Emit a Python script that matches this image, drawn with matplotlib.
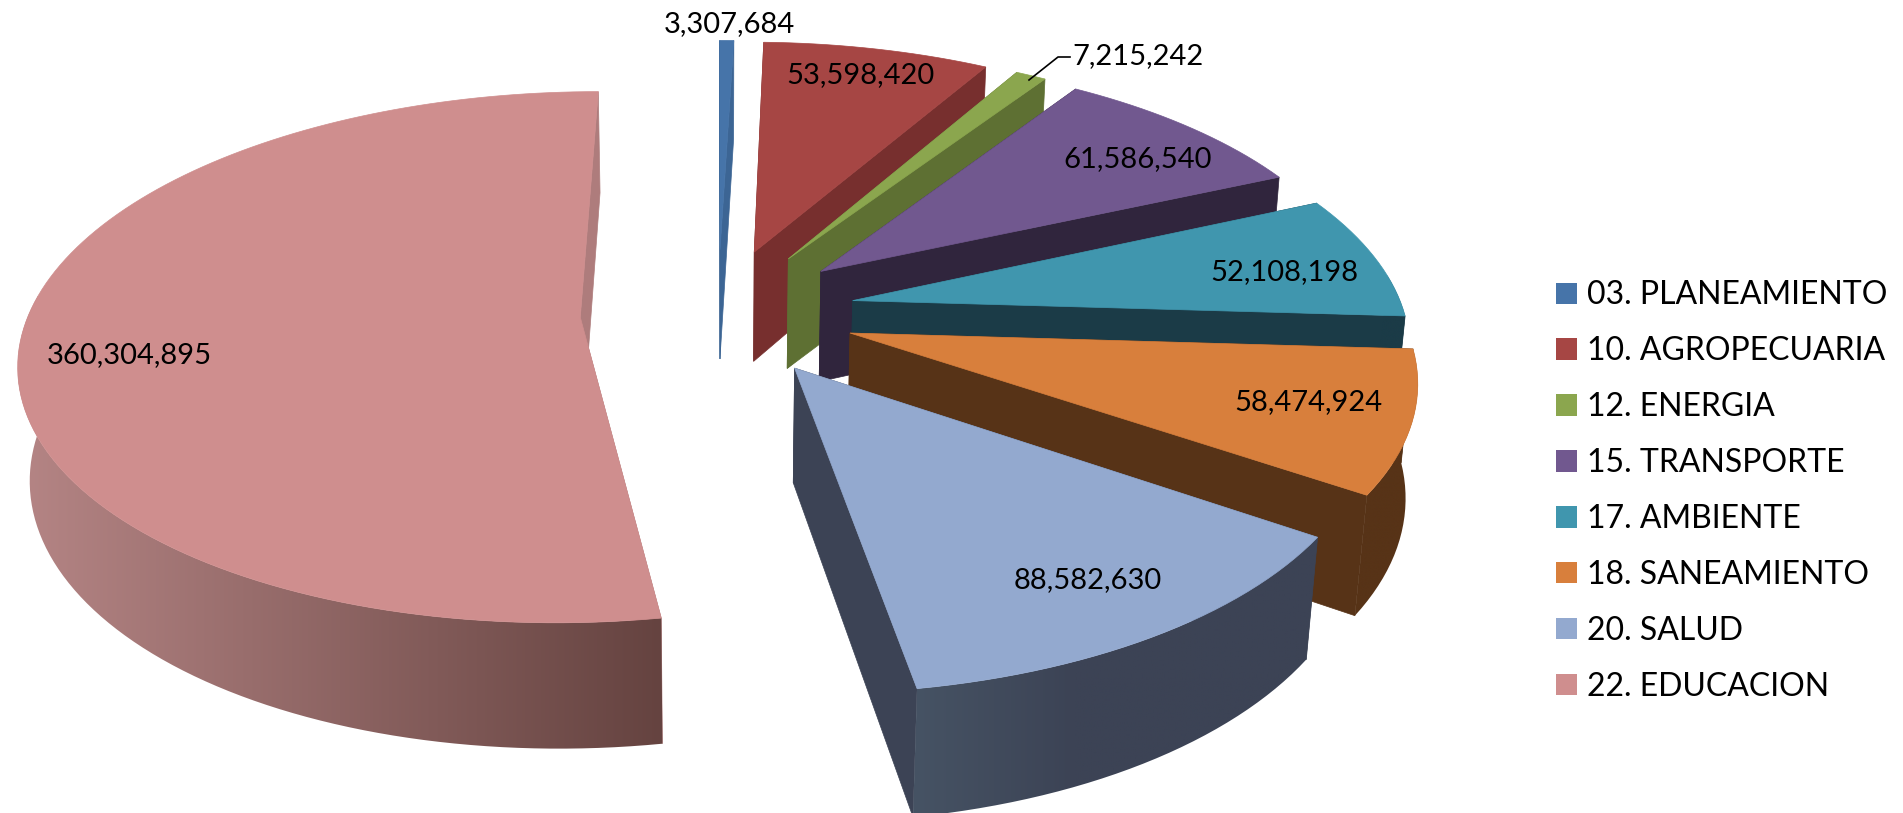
import numpy as np
import matplotlib
matplotlib.use("Agg")
import matplotlib.pyplot as plt
from matplotlib.colors import to_rgb
from matplotlib.patches import Patch, Polygon

categories = ["03. PLANEAMIENTO", "10. AGROPECUARIA", "12. ENERGIA", "15. TRANSPORTE",
              "17. AMBIENTE", "18. SANEAMIENTO", "20. SALUD", "22. EDUCACION"]
values = [3307684, 53598420, 7215242, 61586540, 52108198, 58474924, 88582630, 360304895]

top_colors = ["#4674A9", "#A64644", "#8BA64E", "#71588F", "#4096AE", "#D87F3C", "#93A9CF", "#CF8E8E"]
cut_colors = ["#3C6594", "#772F2E", "#5E7033", "#30253D", "#1B3B47", "#573317", "#3C4355", "#AE7C7C"]
wall_light = ["#3C6594", "#772F2E", "#5E7033", "#30253D", "#1B3B47", "#573317", "#465364", "#B58585"]
wall_dark = ["#3C6594", "#772F2E", "#5E7033", "#30253D", "#1B3B47", "#573317", "#3C4355", "#654340"]
ramp_end = [1, 1, 1, 1, 1, 1, 0.4, 1]
label_pos = [(729, 24), (860, 75), (1138, 56), (1138, 159), (1284, 272), (1308, 402), (1088, 580), (129, 355)]

# projection of the exploded pie, in pixels of the figure
X0, Y0 = 718, 312
RX, RY = 551, 258
EXPLODE = 0.25
PERSP = 0.15
DEPTH = 114
DEPTH_PERSP = 0.017


def project(x, y, z=0.0):
    w = 1 + PERSP * y + DEPTH_PERSP * z
    return np.column_stack([X0 + RX * x / w, Y0 - RY * y / w + DEPTH * z / w])


def draw_slice(ax, start, end, i):
    mid = (start + end) / 2
    ox, oy = EXPLODE * np.sin(mid), EXPLODE * np.cos(mid)
    t = np.linspace(start, end, max(3, int((end - start) * 40)))
    x = ox + np.sin(t)
    y = oy + np.cos(t)

    top_rim = project(x, y)
    low_rim = project(x, y, 1.0)
    apex_top = project(np.array([ox]), np.array([oy]))
    apex_low = project(np.array([ox]), np.array([oy]), 1.0)
    z = 10 + i * 3

    # the two cut faces first, the top face hides whatever is behind it
    for k in (0, -1):
        face = np.vstack([apex_top, top_rim[k], low_rim[k], apex_low])
        ax.add_patch(Polygon(face, fc=cut_colors[i], ec=cut_colors[i], lw=0.5, zorder=z))

    # outer wall only on the front part of the rim, gradient left to right
    front = np.cos(t) < 0.1
    if front.sum() > 1:
        wall = np.vstack([top_rim[front], low_rim[front][::-1]])
        lo, hi = wall[:, 0].min(), wall[:, 0].max()
        f = np.clip(np.linspace(0, 1, 256) / ramp_end[i], 0, 1)[:, np.newaxis]
        ramp = (np.array(to_rgb(wall_light[i])) * (1 - f) + np.array(to_rgb(wall_dark[i])) * f)[np.newaxis, :, :]
        img = ax.imshow(ramp, extent=(lo, hi, wall[:, 1].max(), wall[:, 1].min()),
                        aspect="auto", zorder=z + 1, interpolation="bilinear")
        clip = Polygon(wall, transform=ax.transData, fc="none", ec="none")
        img.set_clip_path(clip)

    ax.add_patch(Polygon(np.vstack([apex_top, top_rim]), fc=top_colors[i], ec=top_colors[i],
                         lw=0.5, zorder=z + 2))


plt.rcParams["font.family"] = ["Lato", "DejaVu Sans"]
fig = plt.figure(figsize=(19.03, 8.13), dpi=100)
ax = fig.add_axes([0, 0, 1, 1])

edges = np.concatenate([[0], np.cumsum(values)]) / sum(values) * 2 * np.pi
for i in range(len(values)):
    draw_slice(ax, edges[i], edges[i + 1], i)

ax.set_xlim(0, 1903)
ax.set_ylim(813, 0)
ax.axis("off")

for v, pos in zip(values, label_pos):
    ax.text(pos[0], pos[1], f"{v:,}", ha="center", va="center", fontsize=21, color="black", zorder=50)

# leader line of the ENERGIA label
ax.plot([1029, 1058, 1070], [80, 57, 57], color="black", lw=1.2, zorder=50)

handles = [Patch(fc=c, ec="none") for c in top_colors]
ax.legend(handles, categories, loc="upper left", bbox_to_anchor=(1556 / 1903, 1 - 280.5 / 813),
          frameon=False, fontsize=23, borderpad=0, borderaxespad=0, handlelength=0.66,
          handleheight=0.66, handletextpad=0.31, labelspacing=0.81)

plt.savefig("out.png", dpi=100)
